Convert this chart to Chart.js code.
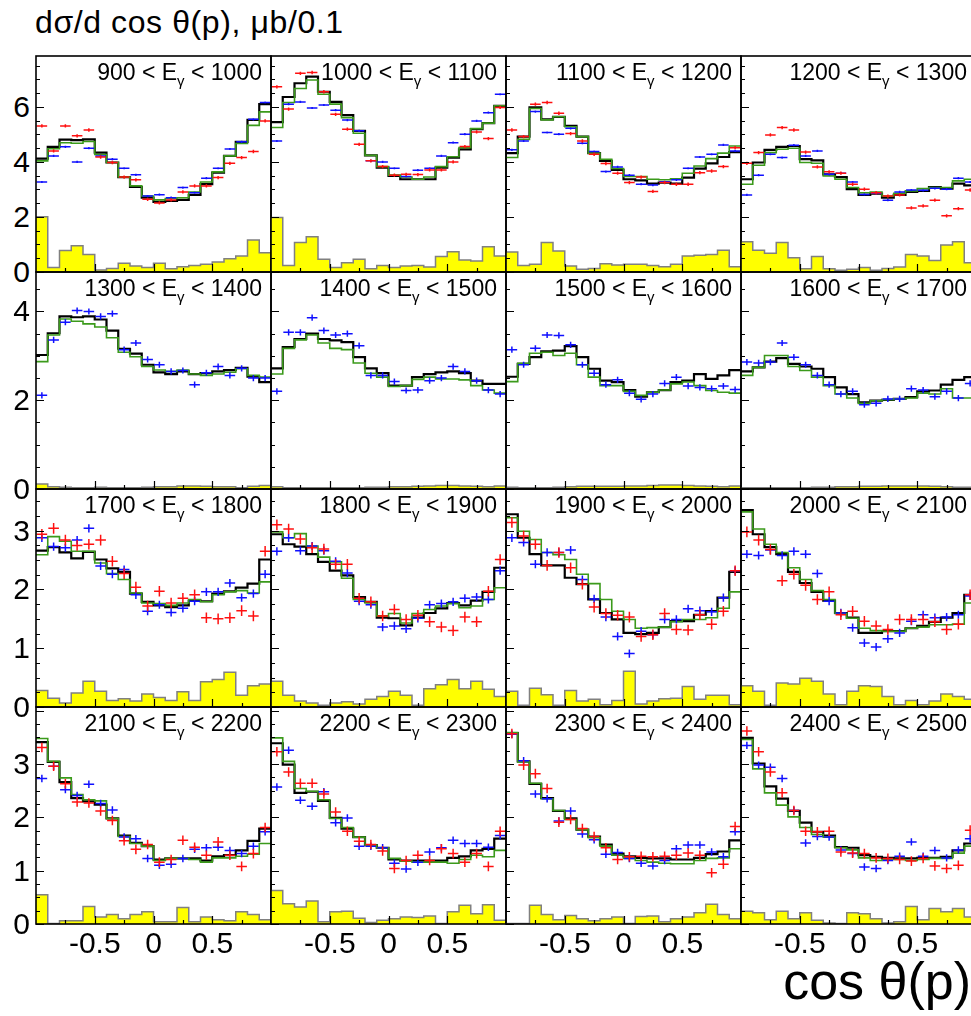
<!DOCTYPE html>
<html>
<head>
<meta charset="utf-8">
<script src="https://cdn.jsdelivr.net/npm/chart.js@4.4.1/dist/chart.umd.min.js"></script>
<style>
  html, body { margin: 0; padding: 0; background: #fff; }
  #page { position: relative; width: 971px; height: 1016px; overflow: hidden;
          font-family: "Liberation Sans", Arial, Helvetica, sans-serif; color: #000; }
  #page canvas { position: absolute; }
  .elabel { position: absolute; font-size: 23px; line-height: 22px; white-space: nowrap;
            transform: translateX(-100%); }
  .elabel sub { font-size: 15px; vertical-align: -6px; line-height: 0; }
  .ylab { position: absolute; font-size: 30px; line-height: 30px; white-space: nowrap;
          transform: translate(-100%, -50%); }
  .xlab { position: absolute; font-size: 30px; line-height: 30px; white-space: nowrap;
          transform: translateX(-50%); }
  #ytitle { position: absolute; left: 35px; top: 6px; font-size: 32px; line-height: 32px;
            letter-spacing: 0.6px; white-space: nowrap; }
  #xtitle { position: absolute; right: 0px; top: 954px; font-size: 52px; line-height: 54px; white-space: nowrap; }
</style>
</head>
<body>
<div id="page">
  <div id="ytitle">dσ/d cos θ(p), μb/0.1</div>
  <div id="xtitle">cos θ(p)</div>
</div>
<script>
// bins in cos theta(p)
const cosEdges = [-1, -0.9, -0.8, -0.7, -0.6, -0.5, -0.4, -0.3, -0.2, -0.1, 0,
                  0.1, 0.2, 0.3, 0.4, 0.5, 0.6, 0.7, 0.8, 0.9, 1];

// photon energy ranges, one per panel
const energyLow  = [900, 1000, 1100, 1200, 1300, 1400, 1500, 1600, 1700, 1800, 1900, 2000, 2100, 2200, 2300, 2400];
const energyHigh = [1000, 1100, 1200, 1300, 1400, 1500, 1600, 1700, 1800, 1900, 2000, 2100, 2200, 2300, 2400, 2500];

// per row axis setup
const rowYMax   = [7.85, 4.89, 3.71, 4.07];
const rowYTicks = [[0, 2, 4, 6], [0, 2, 4], [0, 1, 2, 3], [0, 1, 2, 3]];
const rowMinor  = [0.5, 0.5, 0.25, 0.25];
const rowMajor  = [2, 2, 1, 1];
const xTickLabels = [-0.5, 0, 0.5];

// vertical error sizes of the two data sets, per row
const blueErr = [0.04, 0.07, 0.07, 0.07];
const redErr  = [0.06, 0.06, 0.09, 0.09];

// black histogram (fit)
const blackHist = [
  [4.12,4.55,4.81,4.79,4.82,4.34,3.98,3.45,3.09,2.70,2.55,2.58,2.62,2.80,3.19,3.61,4.22,4.73,5.53,6.10],
  [5.45,6.36,6.86,7.10,6.55,6.18,5.70,5.13,4.24,3.79,3.49,3.37,3.37,3.37,3.79,4.16,4.46,5.19,5.41,6.04],
  [4.32,4.92,5.98,5.55,5.64,5.31,4.92,4.32,4.04,3.71,3.37,3.33,3.21,3.25,3.21,3.43,3.76,3.95,4.18,4.36],
  [3.37,3.98,4.44,4.55,4.58,4.10,4.06,3.55,3.45,3.01,2.80,2.85,2.70,2.80,2.91,2.95,3.09,3.03,3.21,3.15],
  [3.02,3.51,3.89,3.87,3.89,3.82,3.57,3.16,3.05,2.80,2.63,2.59,2.65,2.59,2.61,2.65,2.68,2.73,2.53,2.41],
  [2.72,3.20,3.38,3.50,3.38,3.35,3.31,2.97,2.72,2.61,2.33,2.33,2.52,2.59,2.63,2.65,2.61,2.44,2.37,2.37],
  [2.53,2.82,2.97,3.10,3.12,3.22,2.97,2.71,2.44,2.41,2.23,2.08,2.18,2.23,2.41,2.44,2.59,2.48,2.56,2.68],
  [2.65,2.74,2.87,2.95,2.82,2.76,2.71,2.52,2.29,2.14,1.95,1.99,2.01,2.03,2.07,2.20,2.22,2.35,2.46,2.52],
  [2.66,2.72,2.63,2.53,2.64,2.51,2.36,2.30,1.93,1.79,1.73,1.70,1.73,1.81,1.80,1.93,1.97,2.03,2.10,2.51],
  [2.94,2.77,2.73,2.60,2.47,2.32,2.24,1.87,1.79,1.52,1.51,1.39,1.52,1.60,1.68,1.77,1.73,1.81,1.96,2.37],
  [3.28,2.88,2.60,2.41,2.41,2.20,2.09,1.83,1.60,1.49,1.26,1.24,1.26,1.36,1.46,1.46,1.57,1.63,1.86,2.30],
  [3.35,2.94,2.72,2.60,2.30,2.11,1.96,1.81,1.60,1.52,1.26,1.26,1.29,1.29,1.34,1.38,1.45,1.52,1.60,1.91],
  [3.41,3.04,2.66,2.36,2.30,2.24,1.98,1.66,1.52,1.46,1.21,1.23,1.23,1.23,1.19,1.27,1.29,1.38,1.56,1.79],
  [3.39,2.99,2.46,2.48,2.31,1.99,1.79,1.63,1.48,1.43,1.21,1.19,1.19,1.19,1.19,1.24,1.27,1.38,1.41,1.60],
  [3.58,3.05,2.63,2.36,2.12,1.98,1.77,1.64,1.49,1.32,1.27,1.24,1.23,1.23,1.21,1.21,1.24,1.31,1.36,1.57],
  [3.49,3.01,2.58,2.35,2.12,1.90,1.73,1.66,1.44,1.43,1.29,1.26,1.24,1.23,1.23,1.24,1.24,1.26,1.38,1.51]
];

// green histogram
const greenHist = [
  [4.04,4.48,4.70,4.68,4.74,4.27,3.98,3.45,3.13,2.76,2.62,2.67,2.70,2.91,3.27,3.64,4.22,4.67,5.33,5.82],
  [5.25,6.16,6.67,6.98,6.46,6.10,5.61,5.04,4.24,3.83,3.52,3.45,3.37,3.45,3.83,4.19,4.52,5.21,5.41,6.04],
  [4.16,4.82,5.94,5.53,5.64,5.28,4.92,4.32,4.10,3.76,3.47,3.47,3.37,3.35,3.39,3.59,3.85,4.12,4.32,4.58],
  [3.19,3.88,4.34,4.46,4.50,3.98,3.95,3.49,3.37,3.07,2.88,2.91,2.76,2.86,2.95,3.03,3.07,3.07,3.31,3.37],
  [2.87,3.47,3.83,3.78,3.72,3.65,3.41,3.08,2.98,2.76,2.68,2.65,2.68,2.59,2.56,2.59,2.63,2.71,2.56,2.52],
  [2.59,3.17,3.36,3.47,3.29,3.17,3.14,2.84,2.61,2.52,2.31,2.33,2.47,2.52,2.48,2.48,2.46,2.33,2.23,2.16],
  [2.42,2.83,3.06,3.08,3.01,3.06,2.80,2.52,2.33,2.33,2.20,2.11,2.18,2.23,2.37,2.41,2.33,2.22,2.18,2.16],
  [2.56,2.74,3.01,3.01,2.76,2.67,2.52,2.33,2.14,2.05,1.93,1.99,2.01,2.03,2.05,2.16,2.14,2.26,2.05,2.05],
  [2.59,2.90,2.82,2.65,2.65,2.45,2.27,2.17,1.94,1.77,1.76,1.73,1.77,1.83,1.79,1.91,1.96,1.98,1.94,2.13],
  [2.98,2.88,2.95,2.74,2.55,2.47,2.19,1.83,1.77,1.55,1.59,1.43,1.59,1.66,1.72,1.76,1.69,1.72,1.83,2.03],
  [3.22,2.99,2.85,2.63,2.59,2.51,2.26,2.10,1.83,1.63,1.49,1.34,1.35,1.36,1.45,1.49,1.49,1.52,1.68,1.96],
  [3.32,3.03,2.77,2.63,2.37,2.17,1.98,1.83,1.59,1.51,1.34,1.30,1.29,1.29,1.34,1.36,1.40,1.40,1.41,1.77],
  [3.48,3.05,2.74,2.43,2.33,2.31,1.98,1.64,1.51,1.46,1.19,1.23,1.23,1.21,1.16,1.24,1.24,1.27,1.31,1.51],
  [3.49,3.05,2.54,2.49,2.33,1.98,1.81,1.63,1.48,1.43,1.23,1.18,1.16,1.16,1.16,1.14,1.21,1.29,1.26,1.38],
  [3.59,3.04,2.64,2.35,2.13,1.96,1.77,1.62,1.46,1.29,1.23,1.19,1.16,1.14,1.13,1.13,1.19,1.23,1.24,1.41],
  [3.46,2.91,2.46,2.23,2.01,1.81,1.68,1.63,1.43,1.39,1.24,1.19,1.21,1.21,1.19,1.21,1.23,1.23,1.33,1.46]
];

// blue data points
const bluePts = [
  [3.27,4.22,4.55,4.00,4.50,4.22,4.10,3.77,3.53,2.76,2.81,2.70,3.07,2.88,3.41,3.77,4.47,4.73,5.55,6.16],
  [4.76,6.10,6.18,5.96,6.07,5.88,5.52,5.13,4.04,4.00,3.77,3.47,3.70,3.77,4.22,4.70,5.01,5.49,5.79,6.46],
  [4.44,4.76,5.83,5.07,5.01,5.22,4.68,4.38,3.65,3.82,3.52,3.19,3.16,3.28,3.35,3.77,4.18,4.28,4.62,4.40],
  [2.80,3.52,4.28,4.16,4.61,4.22,4.40,3.55,3.59,3.27,2.82,2.86,2.61,2.91,2.98,2.97,3.04,3.01,3.41,3.27],
  [2.11,3.36,3.76,4.02,4.00,3.89,3.95,3.14,3.29,2.92,2.80,2.65,2.67,2.35,2.62,2.76,2.56,2.72,2.50,2.50],
  [2.20,3.53,3.53,3.86,3.57,3.47,3.50,3.23,2.56,2.56,2.42,2.22,2.23,2.44,2.50,2.76,2.65,2.44,2.23,2.14],
  [3.14,2.80,3.17,3.47,3.46,3.25,2.80,2.61,2.35,2.46,2.16,2.02,2.14,2.38,2.52,2.32,2.29,2.26,2.32,2.24],
  [2.86,2.84,2.86,3.29,2.97,2.80,2.56,2.35,2.14,2.20,1.90,1.93,2.03,2.03,2.26,2.23,2.08,2.20,2.05,2.38],
  [2.88,2.73,2.71,2.84,3.04,2.40,2.26,2.34,1.91,1.63,1.74,1.61,1.68,1.80,1.96,1.96,2.11,1.86,1.93,2.26],
  [2.65,2.88,2.66,2.74,2.66,2.48,2.28,1.80,1.74,1.36,1.38,1.33,1.51,1.74,1.76,1.79,1.85,1.87,1.83,2.32],
  [2.88,2.80,2.43,2.63,2.63,2.67,2.17,1.84,1.53,1.20,0.91,1.29,1.23,1.49,1.49,1.67,1.64,1.62,1.86,2.32],
  [2.60,2.58,2.67,2.58,2.65,2.60,2.27,1.80,1.60,1.35,1.09,1.02,1.16,1.26,1.46,1.57,1.52,1.53,1.57,1.89],
  [2.73,2.96,2.52,2.41,2.62,2.26,2.14,1.63,1.60,1.23,1.10,1.12,1.23,1.40,1.43,1.44,1.38,1.32,1.46,1.73],
  [2.57,3.26,2.32,2.21,2.48,1.90,1.99,1.46,1.46,1.43,1.14,1.03,1.16,1.35,1.43,1.57,1.51,1.51,1.44,1.66],
  [3.56,3.06,2.44,2.35,1.93,2.12,1.69,1.58,1.31,1.34,1.23,1.14,1.09,1.19,1.41,1.48,1.48,1.35,1.26,1.73],
  [3.35,2.98,2.94,2.73,2.13,1.52,1.64,1.63,1.39,1.32,1.07,1.04,1.19,1.27,1.54,1.27,1.38,1.24,1.39,1.60]
];

// red data points (not shown for 1300-1700)
const redPts = [
  [5.31,4.40,5.31,4.95,5.16,4.18,3.98,3.45,3.35,2.64,2.51,2.62,2.91,3.13,3.13,3.43,3.95,4.16,4.38,5.49],
  [6.73,5.92,7.22,7.25,6.55,5.73,5.19,4.64,4.04,3.83,3.52,3.55,3.54,3.71,3.71,4.00,4.56,5.09,4.85,5.98],
  [5.16,4.92,6.10,6.16,5.77,5.03,4.76,4.28,3.94,3.59,3.25,3.45,2.93,3.25,3.19,3.19,3.61,3.67,3.83,4.52],
  [3.95,4.34,4.98,5.25,5.16,4.36,3.82,3.64,3.59,3.19,3.01,2.88,2.76,2.80,2.33,2.40,2.61,2.04,2.30,2.98],
  [], [], [], [],
  [2.94,3.04,2.84,2.75,2.77,2.84,2.48,2.27,2.04,1.72,1.97,1.77,1.85,1.91,1.52,1.50,1.52,1.64,1.55,2.65],
  [3.10,3.03,2.86,2.71,2.69,2.43,2.43,1.85,1.79,1.55,1.66,1.49,1.56,1.45,1.36,1.30,1.53,1.45,1.97,2.51],
  [3.14,2.91,2.77,2.41,2.63,2.37,2.09,1.70,1.59,1.56,1.53,1.20,1.23,1.59,1.32,1.31,1.57,1.41,1.63,2.32],
  [2.98,2.84,2.68,2.15,2.26,2.07,1.83,1.96,1.57,1.63,1.46,1.38,1.32,1.49,1.49,1.49,1.45,1.32,1.41,1.91],
  [3.31,2.96,2.63,2.29,2.27,2.12,1.94,1.56,1.40,1.49,1.16,1.21,1.57,1.44,1.29,1.54,1.29,1.08,1.32,1.81],
  [3.23,2.85,2.64,2.64,2.44,2.10,1.74,1.55,1.49,1.37,1.04,1.19,1.29,1.19,1.41,1.32,1.16,1.32,1.08,1.74],
  [3.57,2.98,2.82,2.54,1.91,1.96,1.79,1.64,1.43,1.21,1.26,1.27,1.26,1.27,1.29,1.33,1.29,0.96,1.12,1.83],
  [3.62,3.23,2.85,2.46,2.13,1.74,1.73,1.74,1.35,1.33,1.32,1.24,1.23,1.21,1.18,1.23,1.09,1.04,1.10,1.76]
];

// yellow background histogram
const yellowHist = [
  [2.01,0.16,0.78,0.95,0.64,0.07,0.13,0.32,0.22,0.16,0.32,0.12,0.19,0.24,0.28,0.36,0.48,0.58,1.16,0.70],
  [1.98,0.24,1.07,1.28,0.46,0.16,0.34,0.46,0.12,0.24,0.16,0.22,0.24,0.18,0.56,0.74,0.44,0.40,0.92,0.58],
  [0.73,0.24,0.28,1.07,0.76,0.22,0.10,0.13,0.30,0.25,0.28,0.28,0.24,0.19,0.28,0.58,0.61,0.64,0.79,0.19],
  [1.10,0.79,0.68,1.07,0.52,0.12,0.56,0.12,0.06,0.10,0.16,0.06,0.13,0.18,0.64,0.58,0.42,0.98,1.10,0.34],
  [0.11,0.05,0.04,0.03,0.03,0.04,0.03,0.03,0.03,0.04,0.05,0.05,0.07,0.07,0.06,0.05,0.05,0.03,0.06,0.08],
  [0.05,0.03,0.03,0.03,0.03,0.03,0.03,0.03,0.04,0.04,0.05,0.05,0.06,0.07,0.08,0.08,0.07,0.06,0.05,0.07],
  [0.04,0.03,0.03,0.03,0.04,0.05,0.06,0.06,0.06,0.06,0.07,0.07,0.08,0.09,0.09,0.08,0.07,0.06,0.05,0.07],
  [0.03,0.03,0.03,0.03,0.03,0.03,0.04,0.04,0.05,0.05,0.06,0.06,0.07,0.07,0.07,0.07,0.06,0.05,0.04,0.04],
  [0.28,0.15,0.07,0.24,0.44,0.27,0.11,0.14,0.10,0.22,0.16,0.11,0.26,0.11,0.43,0.47,0.59,0.20,0.36,0.39],
  [0.44,0.20,0.10,0.07,0.03,0.07,0.09,0.05,0.13,0.18,0.27,0.20,0.03,0.31,0.38,0.47,0.31,0.44,0.30,0.18],
  [0.27,0.03,0.32,0.21,0.03,0.28,0.10,0.13,0.04,0.11,0.61,0.05,0.10,0.14,0.15,0.35,0.13,0.20,0.20,0.04],
  [0.36,0.27,0.03,0.41,0.39,0.49,0.44,0.22,0.04,0.27,0.36,0.35,0.18,0.04,0.11,0.04,0.10,0.22,0.18,0.13],
  [0.55,0.01,0.06,0.06,0.33,0.13,0.18,0.10,0.18,0.23,0.04,0.04,0.31,0.04,0.13,0.08,0.06,0.23,0.18,0.08],
  [0.63,0.38,0.32,0.43,0.04,0.23,0.24,0.11,0.03,0.07,0.10,0.13,0.12,0.15,0.01,0.23,0.35,0.19,0.36,0.07],
  [0.01,0.01,0.35,0.18,0.08,0.16,0.10,0.06,0.10,0.13,0.01,0.14,0.15,0.04,0.10,0.13,0.21,0.37,0.18,0.10],
  [0.24,0.21,0.08,0.24,0.10,0.21,0.07,0.02,0.01,0.21,0.19,0.10,0.02,0.04,0.33,0.08,0.29,0.23,0.29,0.13]
];

// page layout (frames of the 4x4 pads)
const colLeft = [36, 271, 506, 741];
const padW = 235;
const rowEdges = [56, 272, 489, 707, 924];
const PAD = 4;
const HALF_BIN = 0.045;

// histogram -> points at the bin edges, drawn as steps
function histPoints(vals) {
  const pts = vals.map((v, i) => ({ x: cosEdges[i], y: v }));
  pts.push({ x: cosEdges[vals.length], y: vals[vals.length - 1] });
  return pts;
}
function binCenters(vals) {
  return vals.map((v, i) => ({ x: (cosEdges[i] + cosEdges[i + 1]) / 2, y: v }));
}

// error bars, frame and inward ticks (ROOT style)
const padDecor = {
  id: "padDecor",
  afterDatasetsDraw(chart, args, opts) {
    const { ctx, chartArea: a } = chart;
    const xs = chart.scales.x, ys = chart.scales.y;
    ctx.save();
    ctx.beginPath();
    ctx.rect(a.left, a.top, a.right - a.left, a.bottom - a.top);
    ctx.clip();
    chart.data.datasets.forEach((ds) => {
      if (!ds.errColor) return;
      ctx.strokeStyle = ds.errColor;
      ctx.lineWidth = 1.5;
      ds.data.forEach((p) => {
        const px = xs.getPixelForValue(p.x), py = ys.getPixelForValue(p.y);
        ctx.beginPath();
        ctx.moveTo(xs.getPixelForValue(p.x - HALF_BIN), py);
        ctx.lineTo(xs.getPixelForValue(p.x + HALF_BIN), py);
        ctx.moveTo(px, ys.getPixelForValue(p.y - ds.errY));
        ctx.lineTo(px, ys.getPixelForValue(p.y + ds.errY));
        ctx.stroke();
      });
    });
    ctx.restore();

    ctx.save();
    ctx.strokeStyle = "#000";
    ctx.lineWidth = 1.2;
    ctx.beginPath();
    for (let v = 0; v <= ys.max + 1e-6; v += opts.minor) {
      const py = Math.round(ys.getPixelForValue(v)) + 0.5;
      const major = Math.abs(v / opts.major - Math.round(v / opts.major)) < 1e-6;
      ctx.moveTo(a.left, py);
      ctx.lineTo(a.left + (major ? 8 : 4), py);
    }
    for (let v = -0.75; v <= 0.76; v += 0.25) {
      const px = Math.round(xs.getPixelForValue(v)) + 0.5;
      const major = Math.abs(v * 2 - Math.round(v * 2)) < 1e-6;
      ctx.moveTo(px, a.bottom);
      ctx.lineTo(px, a.bottom - (major ? 8 : 4));
    }
    ctx.stroke();
    ctx.lineWidth = 1.6;
    ctx.strokeRect(a.left, a.top, a.right - a.left, a.bottom - a.top);
    ctx.restore();
  }
};

const page = document.getElementById("page");

for (let p = 0; p < 16; p++) {
  const row = Math.floor(p / 4), col = p % 4;
  const top = rowEdges[row], h = rowEdges[row + 1] - rowEdges[row];
  const left = colLeft[col];

  const canvas = document.createElement("canvas");
  canvas.width = padW + 2 * PAD;
  canvas.height = h + 2 * PAD;
  canvas.style.left = (left - PAD) + "px";
  canvas.style.top = (top - PAD) + "px";
  page.appendChild(canvas);

  const datasets = [
    { data: histPoints(yellowHist[p]), stepped: true, fill: "origin",
      backgroundColor: "#ffff00", borderColor: "#808080", borderWidth: 1.5, pointRadius: 0 },
    { data: histPoints(greenHist[p]), stepped: true, fill: false,
      borderColor: "#3b9a1b", borderWidth: 1.6, pointRadius: 0 },
    { data: histPoints(blackHist[p]), stepped: true, fill: false,
      borderColor: "#000000", borderWidth: 2.2, pointRadius: 0 },
    { data: binCenters(bluePts[p]), showLine: false, pointRadius: 0,
      errColor: "#1010ff", errY: blueErr[row] }
  ];
  if (redPts[p].length) {
    datasets.push({ data: binCenters(redPts[p]), showLine: false, pointRadius: 0,
      errColor: "#ff1010", errY: redErr[row] });
  }

  const chart = new Chart(canvas, {
    type: "line",
    data: { datasets: datasets },
    options: {
      responsive: false,
      animation: false,
      events: [],
      layout: { padding: PAD },
      plugins: {
        legend: { display: false },
        tooltip: { enabled: false },
        padDecor: { minor: rowMinor[row], major: rowMajor[row] }
      },
      scales: {
        x: { type: "linear", min: -1, max: 1, display: false },
        y: { type: "linear", min: 0, max: rowYMax[row], display: false }
      }
    },
    plugins: [padDecor]
  });

  // energy label in the pad
  const lab = document.createElement("div");
  lab.className = "elabel";
  lab.innerHTML = energyLow[p] + " &lt; E<sub>γ</sub> &lt; " + energyHigh[p];
  lab.style.left = (left + padW - 9) + "px";
  lab.style.top = (top + 5) + "px";
  page.appendChild(lab);

  const offX = left - PAD, offY = top - PAD;
  if (col === 0) {
    rowYTicks[row].forEach((v) => {
      const d = document.createElement("div");
      d.className = "ylab";
      d.textContent = v;
      d.style.left = "30px";
      d.style.top = (offY + chart.scales.y.getPixelForValue(v)) + "px";
      page.appendChild(d);
    });
  }
  if (row === 3) {
    xTickLabels.forEach((v) => {
      const d = document.createElement("div");
      d.className = "xlab";
      d.textContent = v;
      d.style.left = (offX + chart.scales.x.getPixelForValue(v)) + "px";
      d.style.top = (offY + chart.chartArea.bottom + 4) + "px";
      page.appendChild(d);
    });
  }
}
</script>
</body>
</html>
